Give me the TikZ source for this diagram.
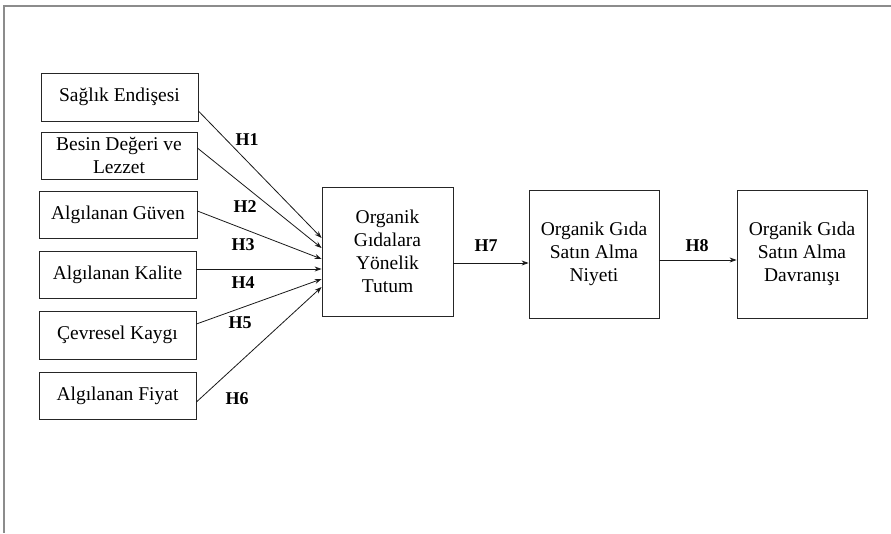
\documentclass[tikz,border=0pt]{standalone}
\usepackage{fontspec}
\setmainfont{Liberation Serif}
\usetikzlibrary{arrows.meta}
\begin{document}
\begin{tikzpicture}[x=1pt,y=-1pt,
  box/.style={draw=black!85,line width=0.8pt,inner sep=0pt,align=center,
    font=\fontsize{19.5}{23}\selectfont},
  hyp/.style={font=\fontsize{18}{22}\selectfont\bfseries,inner sep=0pt},
  link/.style={draw=black!90,line width=0.8pt,-{Stealth[length=7pt,width=5pt]}}]
\useasboundingbox (0,0) rectangle (891,533);
% outer frame (top and left edges)
\draw[black!45,line width=1.6pt] (891,6) -- (4,6) -- (4,533);

% antecedents
\node[box,minimum width=157pt,minimum height=48pt] (sag) at (119.5,97) {Sağlık Endişesi};
\node[box,minimum width=156pt,minimum height=47pt] (bes) at (119,155.5) {Besin Değeri ve\\Lezzet};
\node[box,minimum width=158pt,minimum height=47pt] (guv) at (118,214.5) {Algılanan Güven};
\node[box,minimum width=157pt,minimum height=47pt] (kal) at (117.5,274.5) {Algılanan Kalite};
\node[box,minimum width=157pt,minimum height=48pt] (cev) at (117.5,335) {Çevresel Kaygı};
\node[box,minimum width=157pt,minimum height=47pt] (fiy) at (117.5,395.5) {Algılanan Fiyat};

% attitude, intention, behaviour
\node[box,minimum width=131pt,minimum height=129pt] (tut) at (387.5,251.5) {Organik\\Gıdalara\\Yönelik\\Tutum};
\node[box,minimum width=130pt,minimum height=128pt] (niy) at (594,254) {Organik Gıda\\Satın Alma\\Niyeti};
\node[box,minimum width=130pt,minimum height=128pt] (dav) at (802,254) {Organik Gıda\\Satın Alma\\Davranışı};

% hypothesised paths
\draw[link] ([yshift=-14pt]sag.east) -- ([yshift=13.5pt]tut.west);
\draw[link] ([yshift=7.5pt]bes.east) -- ([yshift=3.5pt]tut.west);
\draw[link] ([yshift=3.5pt]guv.east) -- ([yshift=-7.5pt]tut.west);
\draw[link] ([yshift=5.5pt]kal.east) -- ([yshift=-17.5pt]tut.west);
\draw[link] ([yshift=11pt]cev.east) -- ([yshift=-27.5pt]tut.west);
\draw[link] ([yshift=-6.5pt]fiy.east) -- ([yshift=-35.5pt]tut.west);
\draw[link] ([yshift=-11.5pt]tut.east) -- ([yshift=-9pt]niy.west);
\draw[link] ([yshift=-6pt]niy.east) -- ([yshift=-6pt]dav.west);

% path labels
\node[hyp] (h1) at (247,140) {H1};
\node[hyp] (h2) at (245,207) {H2};
\node[hyp] (h3) at (243,245) {H3};
\node[hyp] (h4) at (243,283) {H4};
\node[hyp] (h5) at (240,323) {H5};
\node[hyp] (h6) at (237,399) {H6};
\node[hyp] (h7) at (486,246) {H7};
\node[hyp] (h8) at (697,246) {H8};
\end{tikzpicture}
\end{document}
